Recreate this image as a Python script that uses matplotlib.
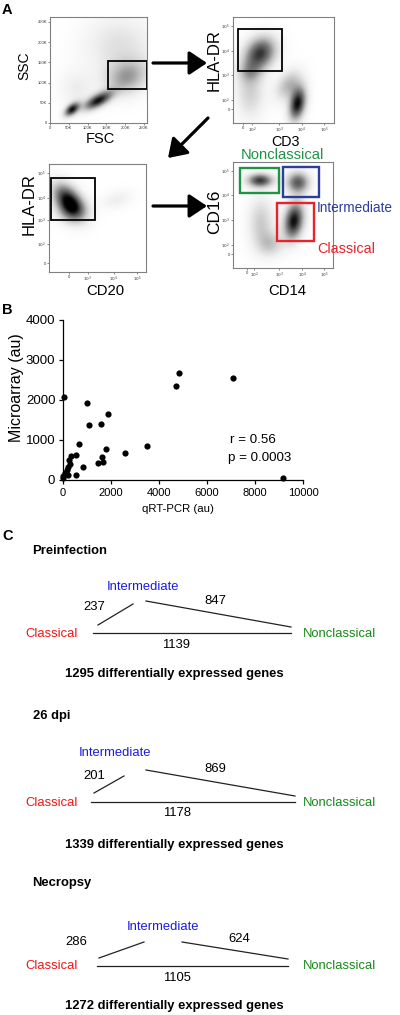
import matplotlib
matplotlib.use("Agg")
import matplotlib.pyplot as plt
import numpy as np
from matplotlib.patches import Rectangle

plt.rcParams["font.family"] = ["Liberation Sans", "DejaVu Sans"]

W, H = 400, 1015

# ---- panel A: gating plots -------------------------------------------------
FSC_TICKS = [0, 50, 100, 150, 200, 250]
FSC_TICK_LABELS = ["0", "50K", "100K", "150K", "200K", "250K"]
FSC_GATE = (153, 83, 257, 153)          # x0, y0, x1, y1 (K)
# population clouds: centre x, centre y, sd x, sd y, correlation, darkness
FSC_CLOUDS = [(58, 33, 14, 12, 0.5, 0.95),
              (128, 55, 26, 16, 0.65, 0.95),
              (205, 112, 40, 30, 0.2, 0.45),
              (185, 190, 65, 55, 0.0, 0.22),
              (70, 85, 32, 32, 0.0, 0.14)]

LOG_LABELS = ["0", "$10^2$", "$10^3$", "$10^4$", "$10^5$"]
CD3_XTICKS = [0.10, 0.19, 0.455, 0.68, 0.90]
CD3_YTICKS = [0.132, 0.217, 0.453, 0.68, 0.915]
CD3_GATE = (0.05, 0.49, 0.485, 0.887)
CD3_CLOUDS = [(0.27, 0.66, 0.11, 0.11, 0.2, 0.85),
              (0.64, 0.18, 0.06, 0.11, 0.3, 1.0),
              (0.55, 0.36, 0.09, 0.10, 0.4, 0.4),
              (0.17, 0.30, 0.10, 0.18, 0.0, 0.3),
              (0.16, 0.48, 0.08, 0.07, 0.0, 0.25)]

CD20_XLABELS = ["0", "$10^3$", "$10^4$", "$10^5$"]
CD20_XTICKS = [0.206, 0.40, 0.67, 0.907]
CD20_YTICKS = [0.083, 0.26, 0.48, 0.685, 0.917]
CD20_GATE = (0.02, 0.48, 0.474, 0.87)
CD20_CLOUDS = [(0.20, 0.66, 0.11, 0.11, -0.45, 1.0),
               (0.24, 0.56, 0.11, 0.08, 0.0, 0.35),
               (0.70, 0.67, 0.11, 0.06, 0.3, 0.14)]

CD14_XTICKS = [0.14, 0.21, 0.46, 0.69, 0.91]
CD14_YTICKS = [0.132, 0.217, 0.453, 0.69, 0.915]
MONO_NAMES = ["Nonclassical", "Intermediate", "Classical"]
MONO_COLORS = ["#1f9447", "#2d3d9c", "#e8232a"]
MONO_GATES = [(0.07, 0.71, 0.46, 0.94),
              (0.50, 0.67, 0.86, 0.95),
              (0.44, 0.255, 0.81, 0.61)]
CD14_CLOUDS = [(0.27, 0.82, 0.09, 0.045, 0.0, 0.85),
               (0.65, 0.80, 0.08, 0.07, 0.0, 0.75),
               (0.61, 0.44, 0.07, 0.12, 0.2, 1.0),
               (0.28, 0.42, 0.09, 0.17, 0.0, 0.32),
               (0.38, 0.22, 0.09, 0.08, 0.0, 0.3)]

# ---- panel B: microarray vs qRT-PCR ----------------------------------------
QPCR = [50, 990, 1080, 1570, 1870, 680, 1780, 3500, 2600, 4700, 4820, 7070,
        9150, 530, 330, 250, 280, 190, 150, 80, 20, 190, 540, 820, 1470, 1680,
        1640, 0]
ARRAY = [2080, 1930, 1370, 1400, 1650, 890, 770, 860, 680, 2350, 2680, 2540,
         50, 630, 600, 500, 390, 330, 250, 170, 100, 125, 130, 330, 420, 460,
         580, 50]
R_VALUE = 0.56
P_VALUE = 0.0003

# ---- panel C: DEG counts ---------------------------------------------------
TIMEPOINTS = ["Preinfection", "26 dpi", "Necropsy"]
DEG_CL_INT = [237, 201, 286]
DEG_INT_NC = [847, 869, 624]
DEG_CL_NC = [1139, 1178, 1105]
DEG_TOTAL = [1295, 1339, 1272]

C_RED, C_BLUE, C_GREEN = "#f01515", "#1c1ce0", "#16891a"


def px_axes(fig, l, t, r, b):
    return fig.add_axes([l / W, 1 - b / H, (r - l) / W, (b - t) / H])


def clouds_image(ax, clouds, extent, n=220):
    x0, x1, y0, y1 = extent
    gx, gy = np.meshgrid(np.linspace(x0, x1, n), np.linspace(y0, y1, n))
    z = np.zeros_like(gx)
    for cx, cy, sx, sy, rho, w in clouds:
        dx = (gx - cx) / sx
        dy = (gy - cy) / sy
        q = (dx ** 2 - 2 * rho * dx * dy + dy ** 2) / (1 - rho ** 2)
        z += w * np.exp(-0.5 * q)
    ax.imshow(z, extent=extent, origin="lower", cmap="Greys", vmin=0,
              vmax=1.05, interpolation="bilinear", aspect="auto", zorder=0)


def flow_style(ax):
    for s in ax.spines.values():
        s.set_color("#808080")
        s.set_linewidth(0.8)
    ax.tick_params(labelsize=3, length=1.5, width=0.4, pad=0.8,
                   colors="#333333")


def gate(ax, g, color="black", lw=1.3):
    x0, y0, x1, y1 = g
    ax.add_patch(Rectangle((x0, y0), x1 - x0, y1 - y0, fill=False,
                           ec=color, lw=lw, zorder=3))


fig = plt.figure(figsize=(W / 100, H / 100), dpi=100)
fig.patch.set_facecolor("white")

# FSC / SSC
ax1 = px_axes(fig, 50, 17, 147, 123)
clouds_image(ax1, FSC_CLOUDS, (0, 258, 0, 262))
ax1.set_xlim(0, 258)
ax1.set_ylim(0, 262)
ax1.set_xticks(FSC_TICKS, FSC_TICK_LABELS)
ax1.set_yticks(FSC_TICKS, FSC_TICK_LABELS)
flow_style(ax1)
gate(ax1, FSC_GATE)

# CD3 / HLA-DR
ax2 = px_axes(fig, 233, 17, 334, 123)
clouds_image(ax2, CD3_CLOUDS, (0, 1, 0, 1))
ax2.set_xlim(0, 1)
ax2.set_ylim(0, 1)
ax2.set_xticks(CD3_XTICKS, LOG_LABELS)
ax2.set_yticks(CD3_YTICKS, LOG_LABELS)
flow_style(ax2)
gate(ax2, CD3_GATE)

# CD20 / HLA-DR
ax3 = px_axes(fig, 49, 164, 146, 272)
clouds_image(ax3, CD20_CLOUDS, (0, 1, 0, 1))
ax3.set_xlim(0, 1)
ax3.set_ylim(0, 1)
ax3.set_xticks(CD20_XTICKS, CD20_XLABELS)
ax3.set_yticks(CD20_YTICKS, LOG_LABELS)
flow_style(ax3)
gate(ax3, CD20_GATE)

# CD14 / CD16
ax4 = px_axes(fig, 233, 162, 333, 268)
clouds_image(ax4, CD14_CLOUDS, (0, 1, 0, 1))
ax4.set_xlim(0, 1)
ax4.set_ylim(0, 1)
ax4.set_xticks(CD14_XTICKS, LOG_LABELS)
ax4.set_yticks(CD14_YTICKS, LOG_LABELS)
flow_style(ax4)
for g, c in zip(MONO_GATES, MONO_COLORS):
    gate(ax4, g, color=c, lw=1.7)

# panel B scatter
axb = px_axes(fig, 63, 320, 303, 480)
axb.scatter(QPCR, ARRAY, s=20, color="black", zorder=3, clip_on=False,
            linewidths=0)
axb.set_xlim(0, 10000)
axb.set_ylim(0, 4000)
axb.set_xticks(range(0, 10001, 2000))
axb.set_yticks(range(0, 4001, 1000))
axb.spines["top"].set_visible(False)
axb.spines["right"].set_visible(False)
for s in ("left", "bottom"):
    axb.spines[s].set_linewidth(0.9)
axb.tick_params(axis="y", labelsize=9.5, length=3, width=0.9, pad=2.5)
axb.tick_params(axis="x", labelsize=8, length=3, width=0.9, pad=2.5)

# overlay for labels, arrows and panel C
ov = fig.add_axes([0, 0, 1, 1])
ov.set_xlim(0, W)
ov.set_ylim(H, 0)
ov.axis("off")
ov.patch.set_visible(False)

for s, (x, y) in zip("ABC", [(2, 10), (2, 310), (2, 536)]):
    ov.text(x, y, s, fontsize=10.5, fontweight="bold", ha="left", va="center")

arrow = dict(arrowstyle="-|>,head_length=0.6,head_width=0.4", lw=2.3,
             color="black", mutation_scale=18, shrinkA=0, shrinkB=0)
ov.annotate("", xy=(207, 63), xytext=(153, 63), arrowprops=arrow)
ov.annotate("", xy=(168, 158), xytext=(208, 118), arrowprops=arrow)
ov.annotate("", xy=(207, 206), xytext=(153, 206), arrowprops=arrow)

# axis titles of the gating plots
ov.text(24, 66, "SSC", fontsize=10, rotation=90, ha="center", va="center")
ov.text(100, 139, "FSC", fontsize=10.5, ha="center", va="center")
ov.text(214, 60, "HLA-DR", fontsize=12, rotation=90,
        ha="center", va="center")
ov.text(285, 142, "CD3", fontsize=10.3, ha="center", va="center")
ov.text(29, 204, "HLA-DR", fontsize=12, rotation=90,
        ha="center", va="center")
ov.text(105, 291, "CD20", fontsize=10.7, ha="center", va="center")
ov.text(214.5, 212, "CD16", fontsize=12.5, rotation=90,
        ha="center", va="center")
ov.text(287, 291, "CD14", fontsize=10.7, ha="center", va="center")
ov.text(282, 155, MONO_NAMES[0], color=MONO_COLORS[0], fontsize=10.6,
        ha="center", va="center")
ov.text(317, 208, MONO_NAMES[1], color=MONO_COLORS[1], fontsize=9.8,
        ha="left", va="center")
ov.text(317, 249, MONO_NAMES[2], color=MONO_COLORS[2], fontsize=10.4,
        ha="left", va="center")

# panel B labels
ov.text(17, 388, "Microarray (au)", fontsize=11.5, rotation=90,
        ha="center", va="center")
ov.text(178, 509, "qRT-PCR (au)", fontsize=8.2, ha="center", va="center")
ov.text(230, 440, f"r = {R_VALUE:.2f}", fontsize=9.6, ha="left", va="center")
ov.text(228, 458, f"p = {P_VALUE:.4f}", fontsize=9.6, ha="left", va="center")

# panel C: triangle diagrams, one per time point
LAYOUT = [
    dict(title=(32, 551), inter=(143, 587), n_ci=(94, 607), n_in=(215, 601),
         l_ci=((98, 625), (133, 604)), l_in=((146, 601), (291, 627)),
         base=((93, 633), (291, 633)), y_lab=634, n_cn=(176, 645),
         total=(174, 674)),
    dict(title=(33, 716), inter=(115, 753), n_ci=(94, 776), n_in=(215, 769),
         l_ci=((94, 793), (124, 776)), l_in=((146, 770), (295, 796)),
         base=((91, 802), (295, 802)), y_lab=803, n_cn=(177, 813),
         total=(174, 845)),
    dict(title=(32, 883), inter=(163, 927), n_ci=(76, 942), n_in=(239, 939),
         l_ci=((99, 958), (144, 942)), l_in=((182, 942), (288, 959)),
         base=((97, 966), (288, 966)), y_lab=966, n_cn=(177, 978),
         total=(174, 1006)),
]
fs = 9.4
for i, L in enumerate(LAYOUT):
    ov.text(*L["title"], TIMEPOINTS[i], fontsize=fs, fontweight="bold",
            ha="left", va="center")
    ov.text(*L["inter"], "Intermediate", color=C_BLUE, fontsize=fs,
            ha="center", va="center")
    ov.text(52, L["y_lab"], "Classical", color=C_RED, fontsize=fs,
            ha="center", va="center")
    ov.text(340, L["y_lab"], "Nonclassical", color=C_GREEN, fontsize=fs,
            ha="center", va="center")
    for key in ("l_ci", "l_in", "base"):
        (xa, ya), (xb, yb) = L[key]
        ov.plot([xa, xb], [ya, yb], color="#222222", lw=0.9)
    ov.text(*L["n_ci"], str(DEG_CL_INT[i]), fontsize=fs, ha="center",
            va="center")
    ov.text(*L["n_in"], str(DEG_INT_NC[i]), fontsize=fs, ha="center",
            va="center")
    ov.text(*L["n_cn"], str(DEG_CL_NC[i]), fontsize=fs, ha="center",
            va="center")
    ov.text(*L["total"], f"{DEG_TOTAL[i]} differentially expressed genes",
            fontsize=fs, fontweight="bold", ha="center", va="center")

fig.savefig("out.png", dpi=100, facecolor="white")
